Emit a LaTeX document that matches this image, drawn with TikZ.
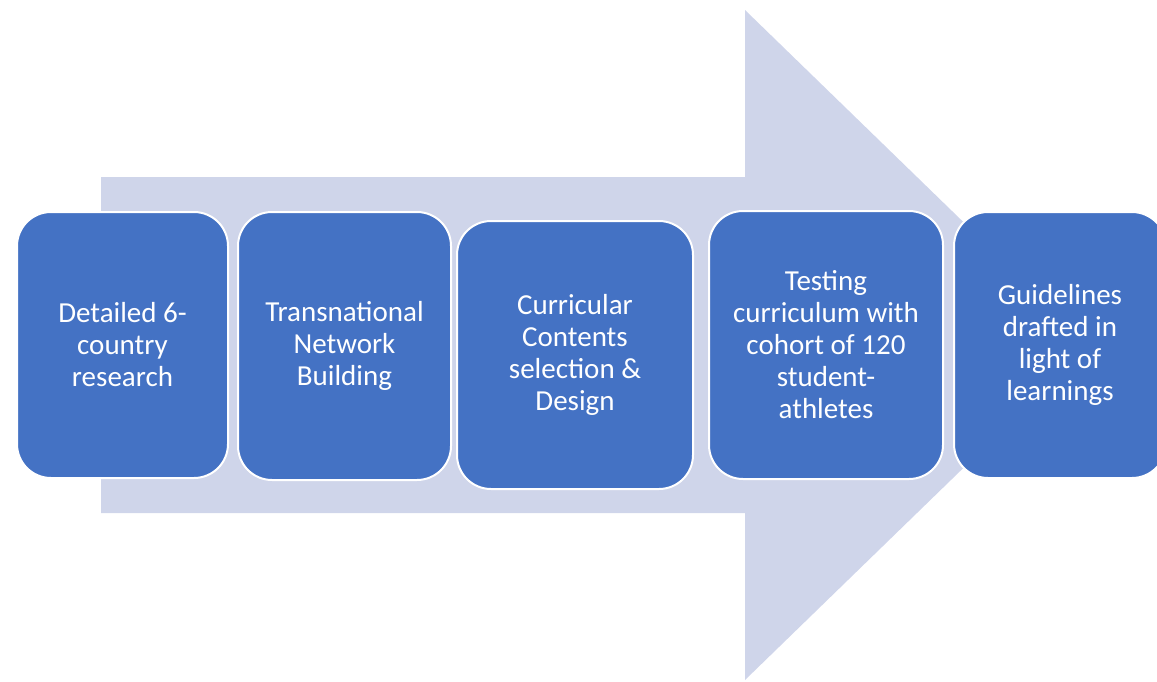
\documentclass[tikz,border=0pt]{standalone}
\usepackage{fontspec}
\setmainfont{Carlito}
\definecolor{arrowfill}{HTML}{CFD5EA}
\definecolor{stepfill}{HTML}{4472C4}
\tikzset{
    stepbox/.style={draw=white, line width=2pt, fill=stepfill, rounded corners=34pt,
        text=white, align=center, font=\fontsize{29}{32}\selectfont,
        inner sep=0pt},
}
\begin{document}
\begin{tikzpicture}[x=1pt,y=-1pt]
    \useasboundingbox (0,0) rectangle (1157,681);
    \clip (0,0) rectangle (1157,681);
    % big arrow in the back
    \fill[arrowfill] (101,177) -- (745,177) -- (745,10) -- (1090,345)
        -- (745,680) -- (745,513) -- (101,513) -- cycle;

    \node[stepbox, minimum width=211pt, minimum height=266pt] (research) at (122.5,345) {Detailed 6-\\country\\research};
    \node[stepbox, minimum width=213pt, minimum height=268pt] (network) at (344.5,346) {Transnational\\Network\\Building};
    \node[stepbox, minimum width=236pt, minimum height=268pt] (design) at (575,355) {Curricular\\Contents\\selection \&\\Design};
    \node[stepbox, minimum width=234pt, minimum height=268pt] (testing) at (826,345) {Testing\\curriculum with\\cohort of 120\\student-\\athletes};
    \node[stepbox, minimum width=212pt, minimum height=266pt] (guidelines) at (1060,345) {Guidelines\\drafted in\\light of\\learnings};
\end{tikzpicture}
\end{document}
